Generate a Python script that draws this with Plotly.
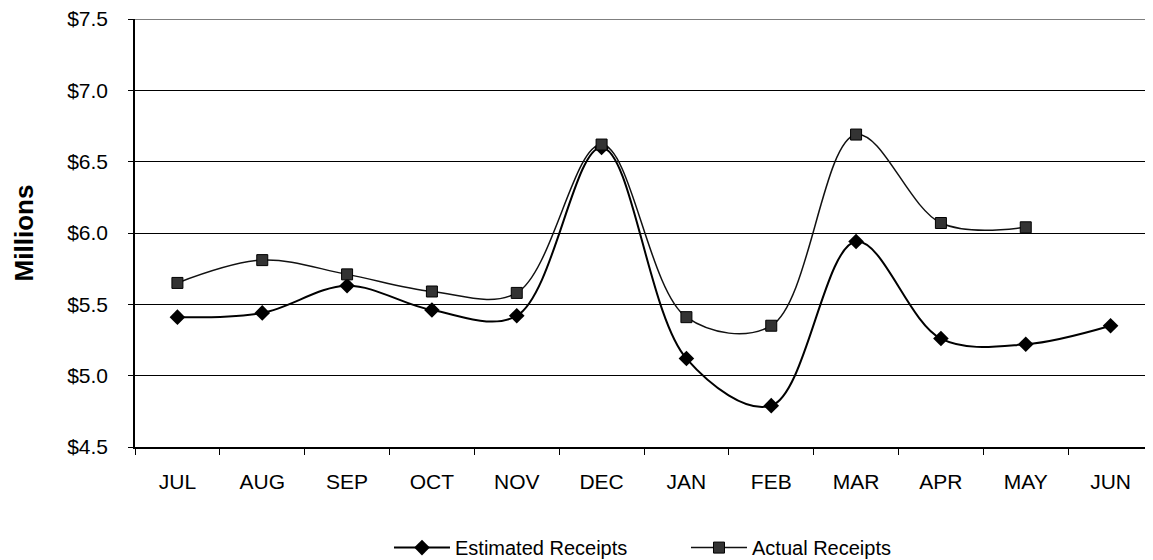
import plotly.graph_objects as go

months = ["JUL", "AUG", "SEP", "OCT", "NOV", "DEC", "JAN", "FEB", "MAR", "APR", "MAY", "JUN"]
estimated = [5.41, 5.44, 5.63, 5.46, 5.42, 6.60, 5.12, 4.79, 5.94, 5.26, 5.22, 5.35]
actual_months = ["JUL", "AUG", "SEP", "OCT", "NOV", "DEC", "JAN", "FEB", "MAR", "APR", "MAY"]
actual = [5.65, 5.81, 5.71, 5.59, 5.58, 6.62, 5.41, 5.35, 6.69, 6.07, 6.04]
y_ticks = [4.5, 5.0, 5.5, 6.0, 6.5, 7.0, 7.5]

fig = go.Figure()
fig.add_trace(go.Scatter(
    x=months, y=estimated, name="Estimated Receipts", mode="lines+markers",
    line=dict(color="black", width=2, shape="spline", smoothing=1.0),
    marker=dict(symbol="diamond", size=12, color="black"),
))
fig.add_trace(go.Scatter(
    x=actual_months, y=actual, name="Actual Receipts", mode="lines+markers",
    line=dict(color="#111111", width=1.5, shape="spline", smoothing=1.0),
    marker=dict(symbol="square", size=11, color="#333333", line=dict(color="black", width=1)),
))

# top gridline (plotly omits the gridline at the range edge)
fig.add_shape(type="line", xref="paper", x0=0, x1=1, yref="y", y0=y_ticks[-1], y1=y_ticks[-1],
              line=dict(color="black", width=1))

font_family = "Liberation Sans, Arial, sans-serif"
# page body has an 8px margin, so the figure is sized/offset to compensate
fig.update_layout(
    width=1145, height=552,
    margin=dict(l=127, r=0, t=11, b=113, autoexpand=False),
    paper_bgcolor="white", plot_bgcolor="white",
    font=dict(family=font_family, color="black", size=21),
    showlegend=True,
    legend=dict(orientation="h", x=0.2495, xanchor="left", y=-0.235, yanchor="middle",
                font=dict(size=20), entrywidth=226, itemwidth=56, tracegroupgap=0,
                bgcolor="rgba(0,0,0,0)"),
)
fig.update_xaxes(
    categoryorder="array", categoryarray=months, range=[-0.5, 11.5],
    showline=True, linecolor="black", linewidth=1.5,
    ticks="outside", tickson="boundaries", ticklen=6, tickcolor="black",
    showgrid=False, tickfont=dict(size=21), ticklabelstandoff=15, automargin=False,
)
fig.update_yaxes(
    range=[4.5, 7.5], tickvals=y_ticks, tickformat="$.1f",
    showline=True, linecolor="black", linewidth=1.5,
    ticks="outside", ticklen=5, tickcolor="black",
    showgrid=True, gridcolor="black", gridwidth=1,
    tickfont=dict(size=21), ticklabelstandoff=16, automargin=False,
    ticklabeloverflow="allow",
    title=dict(text="<b>Millions</b>", font=dict(size=26), standoff=26),
)
fig.write_html("out.html")
